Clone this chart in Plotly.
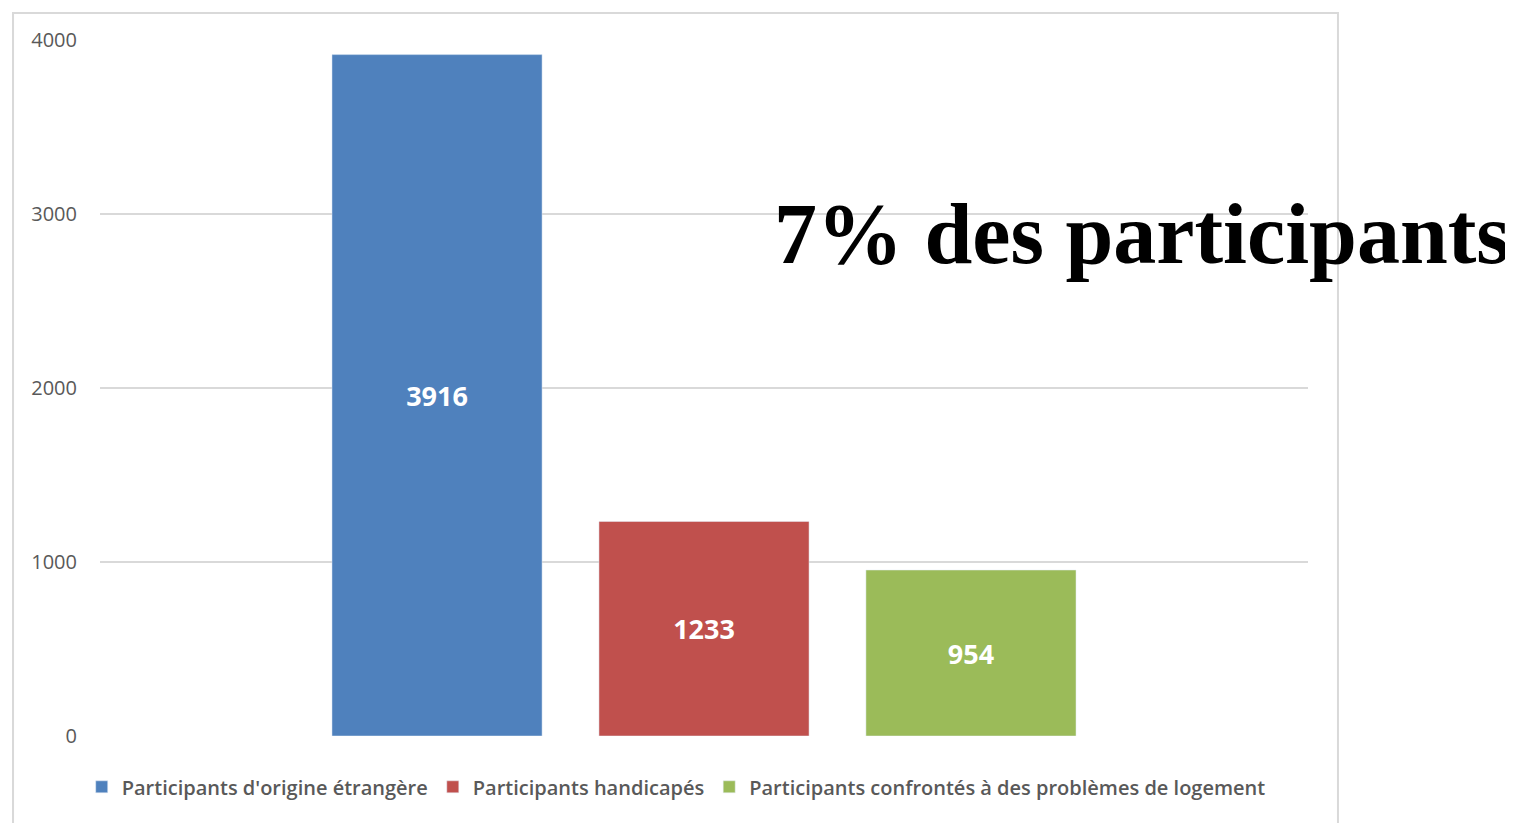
import plotly.graph_objects as go

categories = [""]
series_names = [
    "Participants d'origine étrangère",
    "Participants handicapés",
    "Participants confrontés à des problèmes de logement",
]
series_values = [3916, 1233, 954]
series_colors = ["#4F81BD", "#C0504D", "#9BBB59"]
y_ticks = [0, 1000, 2000, 3000, 4000]

fig = go.Figure()
for name, val, col in zip(series_names, series_values, series_colors):
    fig.add_trace(go.Bar(
        x=categories, y=[val], name=name, marker_color=col,
        text=[str(val)], textposition="inside", insidetextanchor="middle",
        textfont=dict(color="white", size=27, family="Open Sans", weight="bold"),
    ))

fig.update_layout(
    width=1513, height=823,
    margin=dict(l=92, r=213, t=32, b=95),
    paper_bgcolor="white", plot_bgcolor="white",
    barmode="group", bargap=0.337, bargroupgap=0.213,
    showlegend=True,
    legend=dict(orientation="h", x=0.477, xanchor="center", y=-0.073, yanchor="middle",
                font=dict(family="Open Sans", size=20, color="#595959", weight=600),
                itemwidth=30, tracegroupgap=0),
    yaxis=dict(range=[0, 4000], tickvals=y_ticks, showgrid=True, gridcolor="#D9D9D9",
               gridwidth=2, zeroline=False, showline=False, ticks="",
               tickfont=dict(family="Open Sans", size=20, color="#595959"),
               ticklabelstandoff=22),
    xaxis=dict(showticklabels=False, showgrid=False, zeroline=False, showline=False),
    font=dict(family="Open Sans"),
    shapes=[dict(type="rect", xref="paper", yref="paper", x0=-0.072, x1=1.0248,
                 y0=-0.2, y1=1.0388, line=dict(color="#D9D9D9", width=2),
                 layer="below")],
    annotations=[dict(text="<b>7% des participants</b>", xref="paper", yref="paper",
                      x=0.8626, y=0.721, xanchor="center", yanchor="middle", showarrow=False,
                      font=dict(family="Liberation Serif", size=86, color="black"))],
)

fig.write_html("out.html")
